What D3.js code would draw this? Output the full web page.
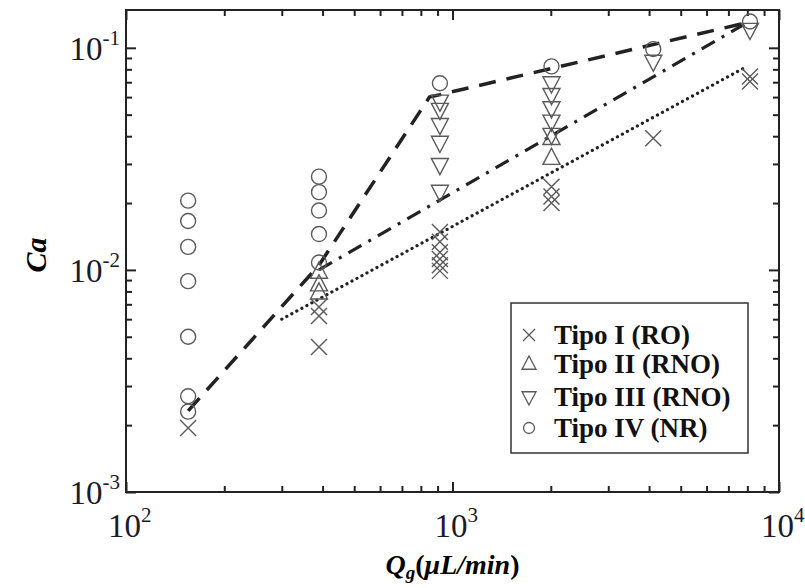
<!DOCTYPE html>
<html><head><meta charset="utf-8">
<script src="https://cdn.jsdelivr.net/npm/d3@7"></script>
<style>body{margin:0;background:#fff} svg{display:block}</style>
</head><body><svg id="c" width="805" height="588"></svg>
<script>
// ---- data ----
const xMajor = [100, 1000, 10000];
const xMajorExp = ["2", "3", "4"];
const yMajor = [0.001, 0.01, 0.1];
const yMajorExp = ["-3", "-2", "-1"];

const tipoI = [[155,0.00194],[390,0.0045],[390,0.0062],[390,0.0068],
  [915,0.0148],[915,0.0134],[915,0.0120],[915,0.0112],[915,0.0105],[915,0.0099],
  [2010,0.0237],[2010,0.0214],[2010,0.0200],[4120,0.0392],[8150,0.0743],[8150,0.0705]];
const tipoII = [[390,0.0098],[390,0.0086],[390,0.0079],[2010,0.0392],[2010,0.0319]];
const tipoIII = [[915,0.0573],[915,0.0526],[915,0.045],[915,0.0374],[915,0.0297],[915,0.0225],
  [2010,0.0693],[2010,0.0614],[2010,0.0535],[2010,0.0466],[2010,0.0406],[4120,0.0867],[8150,0.1206]];
const tipoIV = [[155,0.0205],[155,0.0166],[155,0.0127],[155,0.0089],[155,0.0050],[155,0.0027],[155,0.0023],
  [390,0.0263],[390,0.0224],[390,0.0185],[390,0.0145],[390,0.0108],
  [915,0.0693],[2010,0.0825],[4120,0.0987],[8150,0.1314]];

const dashedLine = [[155,0.00232],[390,0.0105],[850,0.060],[8000,0.13]];
const dashDotLine = [[390,0.0100],[8000,0.13]];
const dottedLine = [[300,0.0060],[7800,0.081]];

const legendLabels = ["Tipo I (RO)", "Tipo II (RNO)", "Tipo III (RNO)", "Tipo IV (NR)"];

// ---- layout ----
const L = 126, R = 779, T = 10, B = 492;
const svg = d3.select("#c");
const x = d3.scaleLog().domain([100, 10000]).range([L, R]);
const y = d3.scaleLog().domain([0.001, 0.148]).range([B, T]);

const minorX = [];
for (let e = 2; e < 4; e++) for (let k = 2; k <= 9; k++) minorX.push(k * Math.pow(10, e));
const minorY = [];
for (let e = -3; e < 0; e++) for (let k = 2; k <= 9; k++) { const v = k * Math.pow(10, e); if (v <= 0.148) minorY.push(v); }

const axColor = "#222";
function styleAxis(g) {
  g.select(".domain").remove();
  g.selectAll(".tick line").attr("stroke", axColor).attr("stroke-width", 2);
}
const bigT = 10, smT = 6;
svg.append("g").attr("transform", `translate(0,${B})`).call(d3.axisBottom(x).tickValues(minorX).tickSize(-smT).tickFormat("")).call(styleAxis);
svg.append("g").attr("transform", `translate(0,${T})`).call(d3.axisTop(x).tickValues(minorX).tickSize(-smT).tickFormat("")).call(styleAxis);
svg.append("g").attr("transform", `translate(0,${B})`).call(d3.axisBottom(x).tickValues(xMajor).tickSize(-bigT).tickFormat("")).call(styleAxis);
svg.append("g").attr("transform", `translate(0,${T})`).call(d3.axisTop(x).tickValues(xMajor).tickSize(-bigT).tickFormat("")).call(styleAxis);
svg.append("g").attr("transform", `translate(${L},0)`).call(d3.axisLeft(y).tickValues(minorY).tickSize(-smT).tickFormat("")).call(styleAxis);
svg.append("g").attr("transform", `translate(${R},0)`).call(d3.axisRight(y).tickValues(minorY).tickSize(-smT).tickFormat("")).call(styleAxis);
svg.append("g").attr("transform", `translate(${L},0)`).call(d3.axisLeft(y).tickValues(yMajor).tickSize(-bigT).tickFormat("")).call(styleAxis);
svg.append("g").attr("transform", `translate(${R},0)`).call(d3.axisRight(y).tickValues(yMajor).tickSize(-bigT).tickFormat("")).call(styleAxis);

svg.append("rect").attr("x", L).attr("y", T).attr("width", R - L).attr("height", B - T)
  .attr("fill", "none").attr("stroke", axColor).attr("stroke-width", 2);

// tick labels
const labFont = "'Liberation Serif', 'Times New Roman', serif";
const xl = svg.append("g").attr("font-family", labFont).attr("fill", "#1a1a2a");
xMajor.forEach((v, i) => {
  const t = xl.append("text").attr("x", x(v) - 18).attr("y", 537).attr("font-size", 33);
  t.append("tspan").text("10");
  t.append("tspan").attr("dy", -15).attr("font-size", 21).text(xMajorExp[i]);
});
const yl = svg.append("g").attr("font-family", labFont).attr("fill", "#1a1a2a");
yMajor.forEach((v, i) => {
  const t = yl.append("text").attr("x", 120).attr("y", y(v) + 12).attr("font-size", 33).attr("text-anchor", "end");
  t.append("tspan").text("10");
  t.append("tspan").attr("dy", -15).attr("font-size", 21).text(yMajorExp[i]);
});

// axis titles
svg.append("text").attr("transform", `translate(46,${(T + B) / 2 + 4}) rotate(-90)`)
  .attr("text-anchor", "middle").attr("font-family", labFont).attr("font-weight", "bold")
  .attr("font-style", "italic").attr("font-size", 30).text("Ca");
const xt = svg.append("text").attr("x", (L + R) / 2).attr("y", 574).attr("text-anchor", "middle")
  .attr("font-family", labFont).attr("font-weight", "bold").attr("font-size", 28);
xt.append("tspan").attr("font-style", "italic").text("Q");
xt.append("tspan").attr("font-style", "italic").attr("font-size", 19).attr("dy", 5).text("g");
xt.append("tspan").attr("dy", -5).text("(");
xt.append("tspan").attr("font-style", "italic").text("μL/min");
xt.append("tspan").text(")");

// lines
const line = d3.line().x(d => x(d[0])).y(d => y(d[1]));
const plot = svg.append("g");
plot.append("path").attr("d", line(dottedLine)).attr("fill", "none").attr("stroke", "#222")
  .attr("stroke-width", 3.2).attr("stroke-linecap", "round").attr("stroke-dasharray", "0.1 5.6");
plot.append("path").attr("d", line(dashDotLine)).attr("fill", "none").attr("stroke", "#222")
  .attr("stroke-width", 3.2).attr("stroke-dasharray", "15 8 3 8");
plot.append("path").attr("d", line(dashedLine)).attr("fill", "none").attr("stroke", "#222")
  .attr("stroke-width", 3.5).attr("stroke-dasharray", "17 11");

// markers
const mk = {
  x: s => `M${-s},${-s}L${s},${s}M${-s},${s}L${s},${-s}`,
  up: s => `M0,${-s * 1.15}L${s},${s * 0.75}L${-s},${s * 0.75}Z`,
  down: s => `M0,${s * 1.15}L${s},${-s * 0.75}L${-s},${-s * 0.75}Z`,
  circle: s => `M${s},0A${s},${s} 0 1,1 ${-s},0A${s},${s} 0 1,1 ${s},0Z`
};
const mColor = "#5a5a5a";
function drawSeries(data, shape, size) {
  plot.append("g").selectAll("path").data(data).join("path")
    .attr("transform", d => `translate(${x(d[0])},${y(d[1])})`)
    .attr("d", mk[shape](size)).attr("fill", "none").attr("stroke", mColor).attr("stroke-width", 1.4);
}
drawSeries(tipoI, "x", 8);
drawSeries(tipoII, "up", 8.5);
drawSeries(tipoIII, "down", 8.5);
drawSeries(tipoIV, "circle", 7.5);

// legend
const lg = svg.append("g");
lg.append("rect").attr("x", 511).attr("y", 303).attr("width", 237).attr("height", 150)
  .attr("fill", "#fff").attr("stroke", "#333").attr("stroke-width", 1.5);
const shapes = ["x", "up", "down", "circle"];
const sizes = [6, 7, 7, 5.5];
const rowsY = [335, 364, 397, 428];
legendLabels.forEach((lab, i) => {
  lg.append("path").attr("transform", `translate(529,${rowsY[i]})`).attr("d", mk[shapes[i]](sizes[i]))
    .attr("fill", "none").attr("stroke", mColor).attr("stroke-width", 1.3);
  lg.append("text").attr("x", 554).attr("y", rowsY[i] + 9).attr("font-family", labFont)
    .attr("font-weight", "bold").attr("font-size", 27).attr("fill", "#111").text(lab);
});
</script></body></html>
